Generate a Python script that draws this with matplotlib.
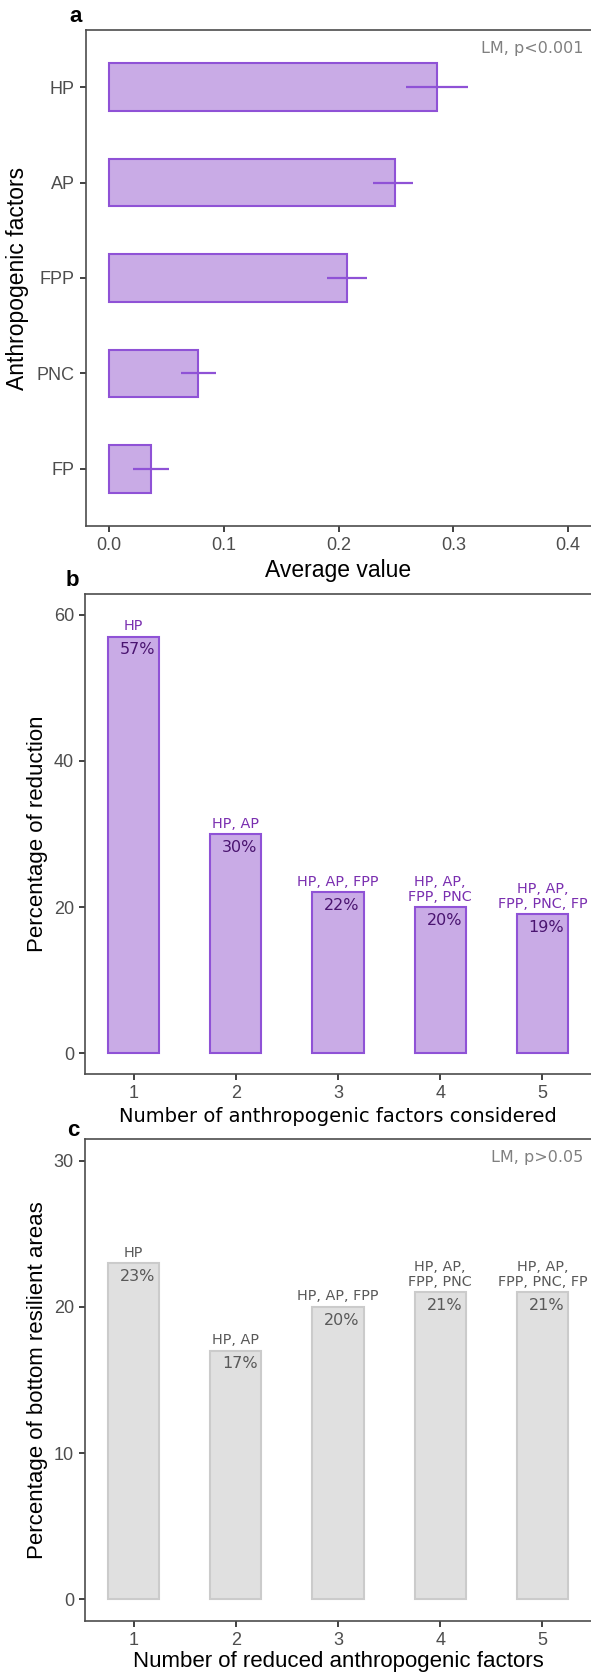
import matplotlib
matplotlib.use('Agg')
import matplotlib.pyplot as plt
import numpy as np

# 데이터
factors = ['HP', 'AP', 'FPP', 'PNC', 'FP']
avg_value = [0.286, 0.249, 0.207, 0.078, 0.037]
err_low = [0.259, 0.230, 0.190, 0.063, 0.021]
err_high = [0.313, 0.265, 0.225, 0.093, 0.052]

n_factors = [1, 2, 3, 4, 5]
reduction_pct = [57, 30, 22, 20, 19]
combo_labels = ['HP', 'HP, AP', 'HP, AP, FPP', 'HP, AP,\nFPP, PNC', 'HP, AP,\nFPP, PNC, FP']
bottom_pct = [23, 17, 20, 21, 21]

W, H = 591, 1673
fig = plt.figure(figsize=(W / 100, H / 100), dpi=100)

SANS = ['Liberation Sans', 'DejaVu Sans']
VER = ['DejaVu Sans']
purple_fill = '#c9abe6'
purple_edge = '#8f52d6'
grey_fill = '#e0e0e0'
grey_edge = '#cbcbcb'


def px_axes(x0, y0, x1, y1):
    # 픽셀 좌표 -> figure 좌표
    ax = fig.add_axes([x0 / W, 1 - y1 / H, (x1 - x0) / W, (y1 - y0) / H])
    ax._px = (x0, y0, x1, y1)
    return ax


def style_axes(ax):
    for s in ['left', 'bottom', 'top']:
        ax.spines[s].set_color('#4d4d4d')
        ax.spines[s].set_linewidth(1.2)
    # 오른쪽 테두리는 원본에서 잘려 있음
    ax.spines['right'].set_visible(False)
    ax.tick_params(axis='both', length=4.5, width=1.3, color='#333333',
                   labelsize=13, labelcolor='#4d4d4d', pad=3.5)
    for lab in ax.get_xticklabels() + ax.get_yticklabels():
        lab.set_family(SANS)


def place_labels(ax, xlab_y, ylab_x):
    # 축 제목 위치를 픽셀 기준으로 지정
    x0, y0, x1, y1 = ax._px
    ax.xaxis.set_label_coords(0.5, (y1 - xlab_y) / (y1 - y0))
    ax.xaxis.label.set_va('center')
    ax.yaxis.set_label_coords((ylab_x - x0) / (x1 - x0), 0.5)
    ax.yaxis.label.set_va('center')


# ---- panel a ----
ax1 = px_axes(86, 30, 591, 526)
ypos = np.arange(len(factors))
ax1.barh(ypos, avg_value, height=0.5, color=purple_fill, edgecolor=purple_edge, linewidth=1.5)
xerr = [np.array(avg_value) - np.array(err_low), np.array(err_high) - np.array(avg_value)]
ax1.errorbar(avg_value, ypos, xerr=xerr, fmt='none', ecolor=purple_edge, elinewidth=1.6, capsize=0)
ax1.set_xlim(-0.02, 0.42)
ax1.set_ylim(len(factors) - 0.4, -0.6)
ax1.set_yticks(ypos)
ax1.set_yticklabels(factors)
ax1.set_xticks([0.0, 0.1, 0.2, 0.3, 0.4])
ax1.set_xticklabels(['0.0', '0.1', '0.2', '0.3', '0.4'])
style_axes(ax1)
ax1.set_xlabel('Average value', fontsize=16.5, family=SANS, color='black')
ax1.set_ylabel('Anthropogenic factors', fontsize=16.5, family=SANS, color='black')
place_labels(ax1, 570, 18)
ax1.text(0.985, 0.978, 'LM, p<0.001', transform=ax1.transAxes, ha='right', va='top',
         fontsize=11.5, color='#808080', family=VER)

# ---- panel b ----
ax2 = px_axes(85, 594, 591, 1074)
ax2.bar(n_factors, reduction_pct, width=0.5, color=purple_fill, edgecolor=purple_edge, linewidth=1.5)
ax2.set_xlim(0.525, 5.475)
ax2.set_ylim(-2.85, 62.85)
ax2.set_xticks(n_factors)
ax2.set_yticks([0, 20, 40, 60])
style_axes(ax2)
for x, v, lab in zip(n_factors, reduction_pct, combo_labels):
    ax2.annotate(lab, (x, v), xytext=(0, 2.5), textcoords='offset points', ha='center', va='bottom',
                 fontsize=10.4, color='#7a2fb0', family=VER, linespacing=1.05)
    ax2.annotate(f'{v}%', (x + 0.04, v), xytext=(0, -9.5), textcoords='offset points', ha='center',
                 va='center', fontsize=11.5, color='#4a1470', family=VER)
ax2.set_xlabel('Number of anthropogenic factors considered', fontsize=14, family=VER, color='black')
ax2.set_ylabel('Percentage of reduction', fontsize=16, family=SANS, color='black')
place_labels(ax2, 1117, 38)

# ---- panel c ----
ax3 = px_axes(85, 1139, 591, 1621)
ax3.bar(n_factors, bottom_pct, width=0.5, color=grey_fill, edgecolor=grey_edge, linewidth=1.5)
ax3.set_xlim(0.525, 5.475)
ax3.set_ylim(-1.5, 31.5)
ax3.set_xticks(n_factors)
ax3.set_yticks([0, 10, 20, 30])
style_axes(ax3)
for x, v, lab in zip(n_factors, bottom_pct, combo_labels):
    ax3.annotate(lab, (x, v), xytext=(0, 2.5), textcoords='offset points', ha='center', va='bottom',
                 fontsize=10.4, color='#595959', family=VER, linespacing=1.05)
    ax3.annotate(f'{v}%', (x + 0.04, v), xytext=(0, -9.5), textcoords='offset points', ha='center',
                 va='center', fontsize=11.5, color='#595959', family=VER)
ax3.set_xlabel('Number of reduced anthropogenic factors', fontsize=16, family=SANS, color='black')
ax3.set_ylabel('Percentage of bottom resilient areas', fontsize=16, family=SANS, color='black')
place_labels(ax3, 1662, 38)
ax3.text(0.985, 0.978, 'LM, p>0.05', transform=ax3.transAxes, ha='right', va='top',
         fontsize=11.5, color='#808080', family=VER)

# panel letters
for lab, (x, y) in zip(['a', 'b', 'c'], [(76, 17), (72, 580), (73, 1130)]):
    fig.text(x / W, 1 - y / H, lab, ha='center', va='center', fontsize=16, fontweight='bold',
             family=SANS)

fig.savefig('out.png', dpi=100)
